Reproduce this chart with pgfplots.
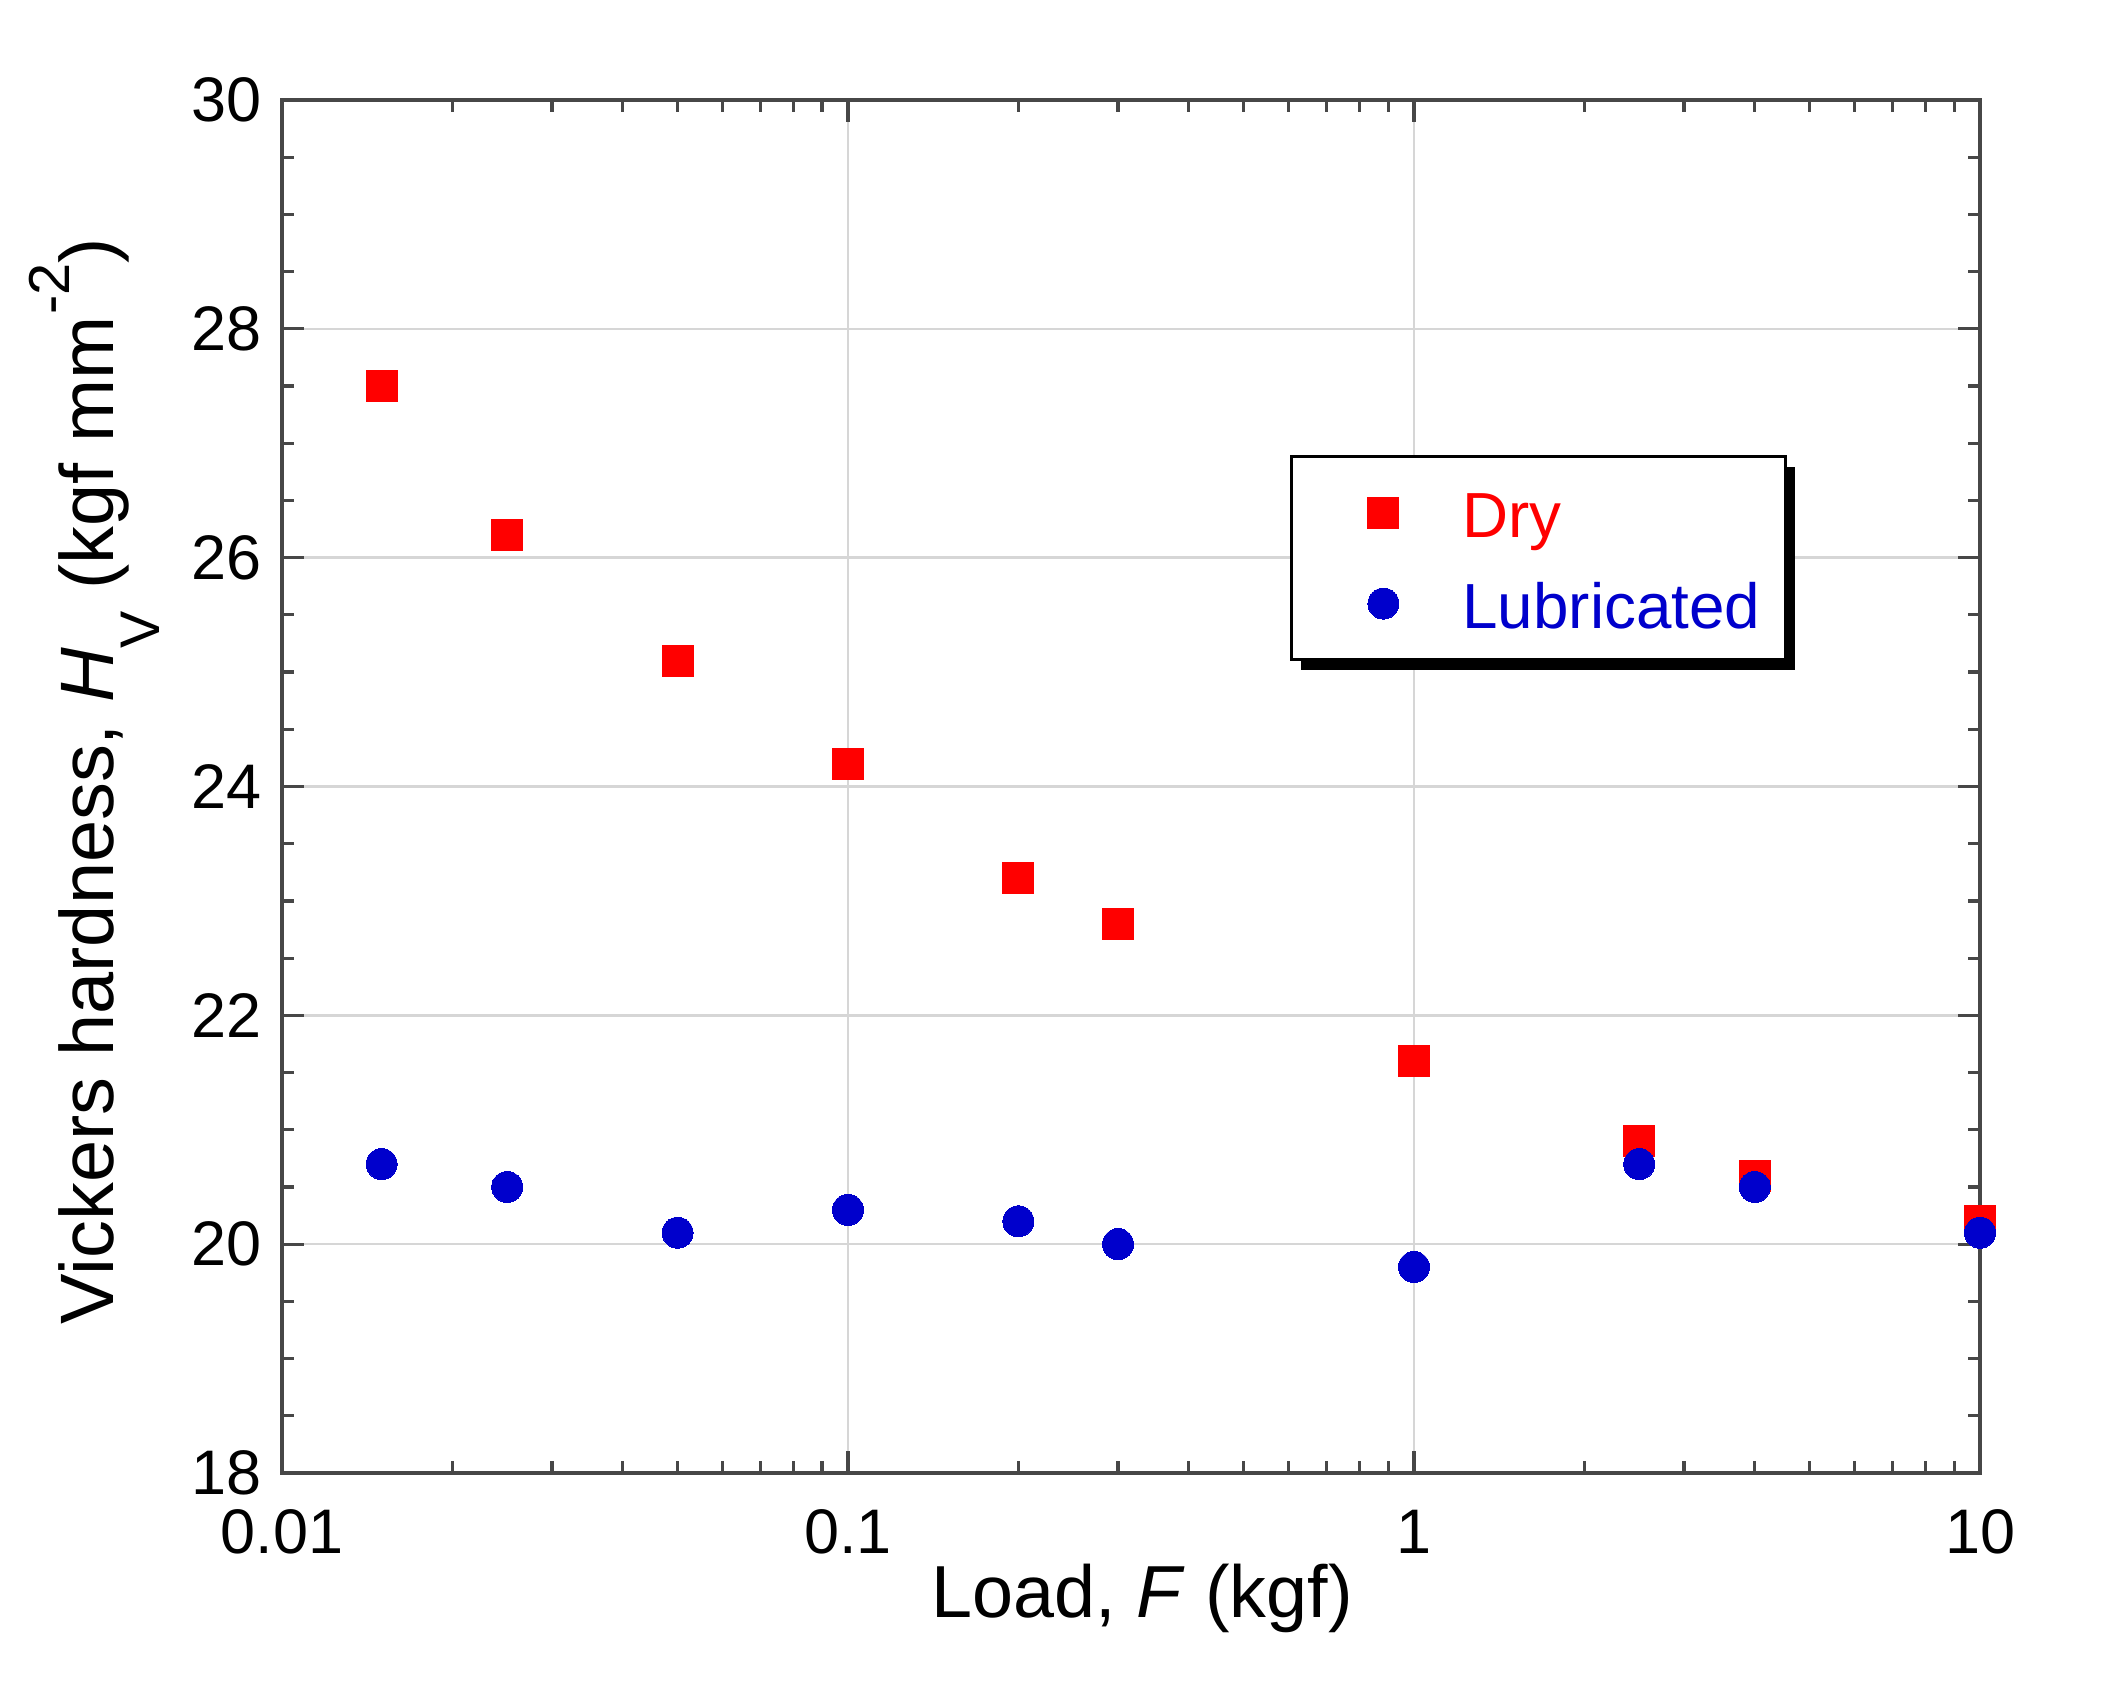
\documentclass[border=0pt]{standalone}
\usepackage{pgfplots}
\pgfplotsset{compat=1.18}
\usepackage{fontspec}
\setmainfont{Liberation Sans}
\usetikzlibrary{shadows}
\definecolor{redM}{RGB}{255,0,0}
\definecolor{blueM}{RGB}{0,0,204}
\begin{document}
\begin{tikzpicture}
\path[use as bounding box] (-70.5bp,-53.75bp) rectangle (459.5bp,368.25bp);
\begin{axis}[
  at={(0,0)}, anchor=south west,
  scale only axis, width=424.5bp, height=343.25bp,
  xmode=log, xmin=0.01, xmax=10, ymin=18, ymax=30,
  xtick={0.01,0.1,1,10}, xticklabels={0.01,0.1,1,10},
  ytick={18,20,22,24,26,28,30}, minor y tick num=3,
  /pgf/number format/assume math mode=true,
  axis line style={black!72, line width=0.9bp},
  tick style={black!72, line width=0.8bp},
  major tick length=5.5bp, minor tick length=3bp,
  grid=major, major grid style={gray!32, line width=0.6bp},
  tick label style={font=\fontsize{15.8}{18}\selectfont},
  xticklabel style={anchor=base, inner sep=0pt, yshift=-20bp},
  yticklabel style={anchor=east, inner sep=0pt, xshift=-4.85bp},
  xlabel={Load, \textit{F} (kgf)},
  xlabel style={font=\fontsize{18.5}{21}\selectfont, at={(axis description cs:0.5065,-0.1049)}, anchor=base, inner sep=0pt},
  ylabel={Vickers hardness, \textit{H}\raisebox{-11.5bp}{\fontsize{14}{15}\selectfont V} (kgf mm\kern0.5bp\raisebox{11bp}{\fontsize{14.5}{15}\selectfont -2})},
  ylabel style={font=\fontsize{19}{22}\selectfont, at={(axis description cs:-0.0995,0.504)}, anchor=base, inner sep=0pt},
  clip=false,
  legend cell align=left,
  legend image code/.code={
    \pgfpathmoveto{\pgfqpoint{-16.75bp}{-6.25bp}}%
    \pgfpathlineto{\pgfqpoint{19.75bp}{6.25bp}}%
    \pgfusepath{discard}%
    \draw[#1] plot coordinates {(0bp,0bp)};
  },
  legend style={at={(axis description cs:0.5936,0.7414)}, anchor=north west,
    draw=black, line width=0.75bp, fill=white,
    inner xsep=6.25bp, inner ysep=7.75bp, row sep=10.25bp, column sep=0pt,
    nodes={inner sep=0pt, text height=12.5bp, text depth=0pt},
    font=\fontsize{16}{19}\selectfont,
    drop shadow={shadow xshift=2.5bp, shadow yshift=-2.5bp, fill=black, opacity=1}},
]
\addplot[only marks, mark=square*, mark size=3.875bp, mark options={fill=redM, draw=redM, line width=0pt}]
coordinates {(0.015,27.5) (0.025,26.2) (0.05,25.1) (0.1,24.2) (0.2,23.2) (0.3,22.8) (1,21.6) (2.5,20.9) (4,20.6) (10,20.2)};
\addlegendentry{\textcolor{redM}{Dry}}
\addplot[only marks, mark=*, mark size=3.875bp, mark options={fill=blueM, draw=blueM, line width=0pt}]
coordinates {(0.015,20.7) (0.025,20.5) (0.05,20.1) (0.1,20.3) (0.2,20.2) (0.3,20.0) (1,19.8) (2.5,20.7) (4,20.5) (10,20.1)};
\addlegendentry{\textcolor{blueM}{Lubricated}}
\end{axis}
\end{tikzpicture}
\end{document}
